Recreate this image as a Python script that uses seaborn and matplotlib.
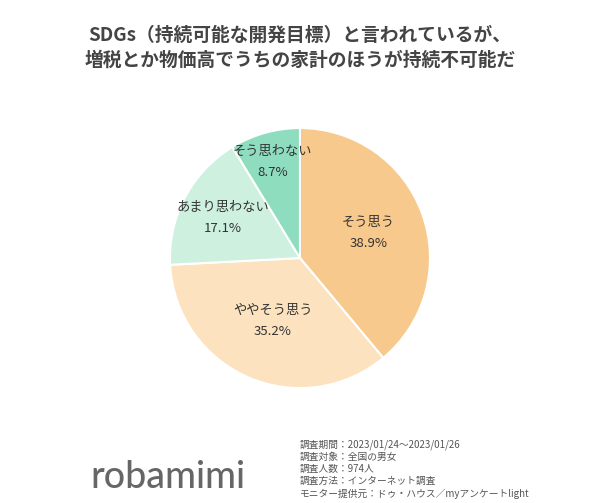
import matplotlib
matplotlib.use("Agg")
import matplotlib.pyplot as plt
import seaborn as sns
import numpy as np

sns.set_theme(style="white")
plt.rcParams['font.family'] = ['Noto Sans CJK JP', 'DejaVu Sans']

labels = ["そう思う", "ややそう思う", "あまり思わない", "そう思わない"]
values = [38.9, 35.2, 17.1, 8.7]
colors = ["#F8C98C", "#FCE2BE", "#CDF0DF", "#8FDDBF"]
title = "SDGs（持続可能な開発目標）と言われているが、\n増税とか物価高でうちの家計のほうが持続不可能だ"
notes = ["調査期間：2023/01/24～2023/01/26", "調査対象：全国の男女", "調査人数：974人",
         "調査方法：インターネット調査", "モニター提供元：ドゥ・ハウス／myアンケートlight"]

fig = plt.figure(figsize=(6, 5.03), dpi=100)
ax = fig.add_axes([0.5 - 0.2167, 0.487 - 0.2585, 0.4333, 0.517])
wedges, _ = ax.pie(values, colors=colors, startangle=90, counterclock=False,
                   wedgeprops=dict(edgecolor="white", linewidth=1.5))
cum = 0
rs = [0.56, 0.53, 0.67, 0.77]
for v, lab, r in zip(values, labels, rs):
    ang = np.deg2rad(90 - (cum + v / 2) * 3.6)
    cum += v
    x, y = r * np.cos(ang), r * np.sin(ang)
    ax.text(x, y, f"{lab}\n{v}%", ha="center", va="center", fontsize=9.5,
            color="#333333", linespacing=1.8)
ax.set_aspect("equal")
ax.set_xlim(-1, 1)
ax.set_ylim(-1, 1)

fig.text(0.5, 0.905, title, ha="center", va="center", fontsize=13.5,
         fontweight="bold", color="#444444", linespacing=1.45)
fig.text(0.5, 0.067, "\n".join(notes), ha="left", va="center", fontsize=7,
         color="#555555", linespacing=1.25)
fig.text(0.15, 0.05, "robamimi", ha="left", va="center", fontsize=27,
         fontweight="medium", color="#666666", family=["Lato", "DejaVu Sans"])
fig.savefig("out.png", dpi=100, facecolor="white")
